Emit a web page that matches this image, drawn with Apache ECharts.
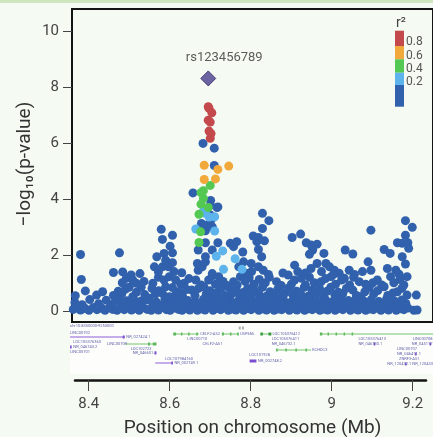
<!DOCTYPE html>
<html><head><meta charset="utf-8">
<script src="https://cdn.jsdelivr.net/npm/echarts@6/dist/echarts.min.js"></script>
<style>html,body{margin:0;padding:0;background:#f5faf2;}#c{width:433px;height:437px;}</style>
</head><body><div id="c"></div>
<script>
// ---- data: [position (Mb), -log10 p] grouped by LD r2 class ----
const snpBlue = [
[8.362,0.05],[8.371,0.10],[8.380,0.03],[8.392,0.08],[8.401,0.02],[8.412,0.12],[8.421,0.04],[8.433,0.09],[8.441,0.02],[8.452,0.11],
[8.460,0.05],[8.471,0.02],[8.480,0.10],[8.489,0.04],[8.498,0.13],[8.507,0.03],[8.516,0.08],[8.526,0.02],[8.535,0.11],[8.546,0.05],
[8.556,0.02],[8.565,0.09],[8.574,0.03],[8.585,0.12],[8.594,0.04],[8.603,0.02],[8.614,0.10],[8.624,0.05],[8.633,0.02],[8.642,0.09],
[8.652,0.03],[8.662,0.11],[8.671,0.02],[8.681,0.07],[8.690,0.03],[8.700,0.12],[8.710,0.02],[8.719,0.08],[8.729,0.04],[8.738,0.11],
[8.748,0.02],[8.757,0.06],[8.767,0.03],[8.776,0.10],[8.786,0.02],[8.795,0.08],[8.805,0.04],[8.815,0.12],[8.824,0.02],[8.834,0.07],
[8.843,0.03],[8.853,0.10],[8.862,0.02],[8.872,0.06],[8.881,0.04],[8.891,0.11],[8.900,0.02],[8.910,0.08],[8.919,0.03],[8.929,0.12],
[8.938,0.02],[8.948,0.07],[8.957,0.04],[8.967,0.10],[8.976,0.02],[8.986,0.06],[8.995,0.03],[9.005,0.11],[9.014,0.02],[9.024,0.08],
[9.033,0.04],[9.043,0.12],[9.052,0.02],[9.062,0.07],[9.071,0.03],[9.081,0.10],[9.090,0.02],[9.100,0.06],[9.109,0.04],[9.119,0.11],
[9.128,0.02],[9.138,0.08],[9.147,0.03],[9.157,0.12],[9.166,0.02],[9.176,0.07],[9.185,0.04],[9.195,0.10],[9.210,0.02],[9.218,0.03],
[8.366,0.30],[8.384,0.22],[8.403,0.40],[8.425,0.25],[8.444,0.38],[8.458,0.20],[8.466,0.33],[8.477,0.41],[8.486,0.24],[8.495,0.36],
[8.503,0.18],[8.512,0.42],[8.522,0.27],[8.531,0.35],[8.543,0.38],[8.551,0.45],[8.560,0.22],[8.569,0.31],[8.579,0.19],[8.590,0.40],
[8.599,0.26],[8.609,0.35],[8.619,0.20],[8.628,0.43],[8.638,0.28],[8.647,0.37],[8.657,0.21],[8.666,0.33],[8.676,0.18],[8.686,0.41],
[8.695,0.27],[8.705,0.36],[8.714,0.22],[8.724,0.44],[8.733,0.29],[8.743,0.18],[8.752,0.38],[8.762,0.25],[8.771,0.33],[8.781,0.20],
[8.790,0.42],[8.800,0.28],[8.810,0.36],[8.819,0.19],[8.829,0.40],[8.838,0.26],[8.848,0.34],[8.857,0.21],[8.867,0.43],[8.876,0.29],
[8.886,0.37],[8.895,0.18],[8.905,0.32],[8.914,0.41],[8.924,0.24],[8.933,0.35],[8.943,0.20],[8.952,0.44],[8.962,0.28],[8.971,0.36],
[8.981,0.21],[8.990,0.40],[9.000,0.27],[9.009,0.34],[9.019,0.19],[9.028,0.42],[9.038,0.26],[9.047,0.37],[9.057,0.22],[9.066,0.43],
[9.076,0.30],[9.085,0.35],[9.095,0.18],[9.104,0.40],[9.114,0.25],[9.123,0.33],[9.133,0.21],[9.142,0.42],[9.152,0.28],[9.161,0.36],
[9.171,0.20],[9.180,0.39],[9.190,0.26],
[8.367,0.54],[8.392,0.71],[8.420,0.56],[8.435,0.68],[8.462,0.55],[8.474,0.70],[8.483,0.62],[8.492,0.78],[8.501,0.84],[8.510,0.50],
[8.519,0.66],[8.531,0.84],[8.540,0.58],[8.558,0.80],[8.566,0.60],[8.575,0.72],[8.584,0.62],[8.592,0.86],[8.601,0.50],[8.609,0.83],
[8.617,0.58],[8.625,0.68],[8.634,0.52],[8.644,0.76],[8.657,0.74],[8.665,0.55],[8.674,0.80],[8.687,0.86],[8.693,0.60],[8.702,0.72],
[8.711,0.52],[8.720,0.65],[8.730,0.80],[8.740,0.55],[8.749,0.83],[8.758,0.62],[8.768,0.74],[8.777,0.50],[8.786,0.66],[8.796,0.80],
[8.805,0.56],[8.814,0.72],[8.824,0.60],[8.833,0.84],[8.843,0.52],[8.852,0.68],[8.862,0.58],[8.871,0.76],[8.881,0.50],[8.890,0.64],
[8.899,0.82],[8.909,0.56],[8.918,0.70],[8.928,0.60],[8.937,0.84],[8.947,0.52],[8.956,0.74],[8.966,0.62],[8.975,0.80],[8.985,0.55],
[8.994,0.70],[9.003,0.84],[9.013,0.58],[9.022,0.66],[9.033,0.62],[9.042,0.80],[9.058,0.74],[9.067,0.55],[9.078,0.50],[9.088,0.68],
[9.099,0.83],[9.110,0.60],[9.120,0.72],[9.136,0.86],[9.145,0.55],[9.158,0.64],[9.169,0.68],[9.180,0.80],[9.193,0.56],[9.216,0.56],
[8.382,1.12],[8.484,1.00],[8.494,1.16],[8.510,1.10],[8.519,0.98],[8.538,1.05],[8.560,0.98],[8.574,1.20],[8.588,1.10],[8.601,1.22],
[8.617,1.10],[8.630,0.95],[8.638,0.98],[8.650,1.15],[8.667,1.10],[8.680,0.92],[8.699,1.10],[8.708,1.25],[8.716,0.95],[8.724,1.22],
[8.735,1.05],[8.745,0.90],[8.761,1.04],[8.778,1.22],[8.770,0.92],[8.790,1.05],[8.800,1.18],[8.812,0.95],[8.825,1.12],[8.840,1.00],
[8.850,1.20],[8.868,1.04],[8.880,0.90],[8.897,1.28],[8.905,0.95],[8.913,1.10],[8.930,1.16],[8.940,0.92],[8.950,1.20],[8.962,1.00],
[8.979,1.04],[8.990,1.15],[9.004,1.22],[9.015,0.95],[9.030,1.10],[9.037,1.16],[9.050,0.92],[9.060,1.20],[9.074,1.04],[9.090,0.95],
[9.108,1.00],[9.119,1.10],[9.130,0.92],[9.152,1.22],[9.160,1.00],[9.175,1.12],[9.193,1.22],[9.185,0.92],
[8.462,1.37],[8.485,1.39],[8.506,1.28],[8.528,1.33],[8.564,1.57],[8.574,1.39],[8.584,1.57],[8.599,1.57],[8.613,1.40],[8.632,1.36],
[8.592,1.81],[8.609,1.72],[8.671,1.69],[8.673,1.45],[8.683,1.57],[8.691,1.75],[8.708,1.33],[8.774,1.57],[8.786,1.75],[8.792,1.34],
[8.805,1.69],[8.823,1.57],[8.835,1.45],[8.806,1.40],[8.848,1.30],[8.913,1.63],[8.969,1.69],[8.954,1.51],[8.991,1.69],[9.000,1.57],
[9.012,1.45],[8.921,1.40],[9.024,1.34],[8.940,1.35],[8.980,1.40],[9.049,1.45],[9.082,1.40],[9.103,1.45],[9.144,1.51],[9.165,1.45],
[9.173,1.31],[9.096,1.75],[9.010,1.30],[9.062,1.30],[8.884,1.35],
[8.380,2.01],[8.477,2.07],[8.570,1.93],[8.581,2.91],[8.584,2.55],[8.609,2.70],[8.603,2.31],[8.588,2.05],[8.609,2.07],[8.673,2.17],
[8.708,2.17],[8.722,2.43],[8.691,2.43],[8.691,1.93],[8.753,2.41],[8.769,2.47],[8.761,2.29],[8.784,2.10],[8.833,3.48],[8.849,3.22],
[8.833,2.94],[8.810,2.67],[8.823,2.62],[8.838,2.50],[8.819,2.47],[8.823,2.19],[8.831,1.93],[8.907,2.62],[8.928,2.74],[8.942,2.43],
[8.954,2.35],[8.969,2.38],[8.958,2.17],[8.950,2.02],[8.986,2.05],[9.103,2.88],[9.189,3.22],[9.206,2.98],[9.189,2.70],[9.169,2.43],
[9.181,2.41],[9.195,2.43],[9.197,2.23],[9.039,2.17],[9.058,2.03],[9.136,2.19],[9.151,2.05],[9.181,1.93],[9.189,1.67],
[8.685,5.98],[8.713,5.81],[8.713,5.19],[8.660,4.21],[8.704,3.94],[8.720,3.69],[8.703,3.77],[8.722,3.71],[8.703,3.42],[8.681,3.12],
[8.695,3.06],[8.708,3.00],[8.679,2.92],[8.691,2.86],[8.705,3.25]
];
const snpLightBlue = [[8.686,3.56],[8.691,3.48],[8.714,3.36],[8.667,2.92],[8.714,2.85],[8.734,2.14],[8.718,1.95],[8.765,1.86],[8.736,1.48],[8.782,1.48],[8.700,3.35]];
const snpGreen = [[8.703,4.48],[8.686,4.29],[8.680,4.22],[8.686,4.01],[8.680,3.81],[8.698,3.69],[8.675,3.45],[8.679,2.82],[8.675,2.44]];
const snpOrange = [[8.688,5.20],[8.722,5.05],[8.749,5.17],[8.688,4.69],[8.716,4.71]];
const snpRed = [[8.698,7.29],[8.700,7.23],[8.707,7.07],[8.698,6.81],[8.703,6.74],[8.700,6.42],[8.705,6.33],[8.703,6.16]];
const leadSnp = [[8.698,8.30]];
const leadName = 'rs123456789';

const yTicks = [0, 2, 4, 6, 8, 10];
const xTicks = [8.4, 8.6, 8.8, 9, 9.2];
const legendLabels = ['0.8', '0.6', '0.4', '0.2'];
const yTitle = '−log₁₀(p-value)';
const xTitle = 'Position on chromosome (Mb)';

// gene track: [start Mb, end Mb, row, kind]  kind: 0 purple line, 1 green line, 2 green exon, 3 dark green exon, 4 purple exon, 5 grey mark
const geneSegs = [
[8.354,8.490,14,0],[8.485,8.490,14,4],[8.354,8.358,24,4],
[8.490,8.569,21,1],[8.548,8.553,21,2],[8.560,8.569,21,2],[8.564,8.569,30,4],
[8.566,8.610,40,0],[8.606,8.610,40,4],
[8.611,8.675,11,1],[8.611,8.618,11,2],[8.630,8.633,11,2],[8.648,8.651,11,2],[8.668,8.672,11,2],
[8.732,8.774,11,1],[8.732,8.737,11,2],[8.752,8.755,11,2],[8.770,8.774,11,2],
[8.828,8.855,11,1],[8.828,8.834,11,3],[8.848,8.855,11,3],
[8.867,8.954,27,1],[8.867,8.871,27,2],[8.890,8.893,27,2],[8.915,8.918,27,2],[8.940,8.943,27,2],
[8.801,8.818,38,4],
[8.976,9.260,11,1],[8.976,8.982,11,2],[8.995,8.998,11,2],[9.015,9.018,11,2],[9.035,9.038,11,2],[9.055,9.058,11,2],
[9.110,9.113,21,4],[9.213,9.216,31,4],[9.249,9.252,21,4],[9.188,9.191,41,4],
[8.774,8.779,5,5],[8.782,8.787,5,5]
];
const geneLabels = [
[8.354,3,'chr10:8350000-9250000'],[8.354,10,'LINC00702'],[8.494,14,'NR_027424.1'],[8.362,19,'LOC105376360'],
[8.362,24,'NR_046743.2'],[8.354,29,'LINC00701'],[8.446,21,'LINC00709'],[8.505,26,'LOC102723'],[8.510,30,'NR_046601.1'],
[8.591,36,'LOC107984160'],[8.614,40,'NR_002749.1'],[8.678,11,'CELF2-AS2'],[8.646,16,'LINC00710'],[8.684,21,'CELF2-AS1'],
[8.777,11,'USP6NL'],[8.858,11,'LOC105376412'],[8.856,16,'LOC105376411'],[8.856,21,'NR_046732.1'],[8.957,27,'ECHDC3'],
[8.800,32,'LOC101928'],[8.822,38,'NR_002748.2'],[9.072,16,'LOC105376413'],[9.072,21,'NR_046730.1'],[9.207,16,'LINC00708'],
[9.205,21,'NR_045117.1'],[9.168,26,'LINC00707'],[9.168,31,'NR_046411.1'],[9.173,36,'ZNRF3-AS1'],[9.144,41,'NR_120432.1 NR_120433.1']
];

const COL = {blue:'#3161ad', light:'#5db3ec', green:'#53c853', orange:'#f2a93b', red:'#c4494c', lead:'#4a3d8f'};
const legendColors = [COL.red, COL.orange, COL.green, COL.light, COL.blue];
const geneColors = ['#8c5cd6', '#74c46a', '#5cb85c', '#2e9a3a', '#7a4fd0', '#b0b0b0'];

const X_MIN = 8.3588, X_MAX = 9.2576;
const FONT = 'Roboto, "DejaVu Sans", sans-serif';

const chart = echarts.init(document.getElementById('c'), null, {renderer: 'canvas'});

function scat(data, color, z) {
  return {type:'scatter', xAxisIndex:0, yAxisIndex:0, data, symbol:'circle', symbolSize:9,
    itemStyle:{color, opacity:1}, z, silent:true};
}

// legend graphics
const lgX = 395, lgY = 30.7, lgW = 9;
const lgH = [15.3, 13.3, 13.4, 12.3, 21.7];
const legendEls = [];
let yy = lgY;
lgH.forEach((h, i) => {
  legendEls.push({type:'rect', shape:{x:lgX, y:yy, width:lgW, height:h}, style:{fill:legendColors[i]}, z:10});
  yy += h;
});
const lblY = [42.3, 55.7, 68.5, 81.7];
legendLabels.forEach((t, i) => {
  legendEls.push({type:'text', x:lgX + 11, y:lblY[i], style:{text:t, fill:'#555', font:'12px ' + FONT, verticalAlign:'middle', align:'left'}, z:10});
});
legendEls.push({type:'text', x:lgX + 1, y:23, style:{text:'r²', fill:'#444', font:'14px ' + FONT, verticalAlign:'middle', align:'left'}, z:10});

chart.setOption({
  animation:false,
  backgroundColor:'#f5faf2',
  grid:[
    {left:72, top:9, right:-3, height:313, show:true, borderColor:'#141414', borderWidth:2, backgroundColor:'transparent', containLabel:false},
    {left:72, top:323, right:-3, height:52, show:false},
    {left:75, top:379, right:7, height:1, show:false}
  ],
  xAxis:[
    {gridIndex:0, type:'value', min:X_MIN, max:X_MAX, show:false},
    {gridIndex:1, type:'value', min:X_MIN, max:X_MAX, show:false},
    {gridIndex:2, type:'value', min:8.3662, max:9.2329, position:'bottom',
      axisLine:{show:true, onZero:false, lineStyle:{color:'#141414', width:2.5}},
      axisTick:{show:true, customValues:xTicks, length:11, lineStyle:{color:'#444', width:1}},
      axisLabel:{show:true, customValues:xTicks, margin:17, fontSize:15, color:'#444', fontFamily:FONT,
        formatter:v => (Math.round(v*10)/10).toString()},
      splitLine:{show:false}
    }
  ],
  yAxis:[
    {gridIndex:0, type:'value', min:-0.4, max:10.78,
      axisLine:{show:false},
      axisTick:{show:true, customValues:yTicks, length:9, lineStyle:{color:'#444', width:1}},
      axisLabel:{show:true, customValues:yTicks, margin:13, fontSize:15, color:'#444', fontFamily:FONT},
      splitLine:{show:false}
    },
    {gridIndex:1, type:'value', min:0, max:52, inverse:true, show:false},
    {gridIndex:2, type:'value', min:0, max:1, show:false}
  ],
  graphic:[
    {type:'rect', shape:{x:0, y:0, width:433, height:3}, style:{fill:'#cfe5bf'}, z:0},
    {type:'rect', shape:{x:70, y:323, width:365, height:51}, style:{fill:'#fdfefc'}, z:0},
    {type:'text', x:25, y:164, rotation:Math.PI/2, style:{text:yTitle, fill:'#333', font:'19px ' + FONT, align:'center', verticalAlign:'middle'}, z:10},
    {type:'text', x:252.5, y:428, style:{text:xTitle, fill:'#333', font:'19px ' + FONT, align:'center', verticalAlign:'middle'}, z:10},
    ...legendEls
  ],
  series:[
    scat(snpBlue, COL.blue, 2),
    scat(snpLightBlue, COL.light, 3),
    scat(snpGreen, COL.green, 4),
    scat(snpOrange, COL.orange, 5),
    scat(snpRed, COL.red, 6),
    {type:'scatter', xAxisIndex:0, yAxisIndex:0, data:leadSnp, symbol:'diamond', symbolSize:15, z:7, silent:true,
      itemStyle:{color:COL.lead, borderColor:'#2d2563', borderWidth:1},
      label:{show:true, position:'top', offset:[16, -1], formatter:leadName, fontSize:13, color:'#333', fontFamily:FONT}
    },
    {type:'custom', xAxisIndex:1, yAxisIndex:1, data:geneSegs, silent:true, z:3,
      renderItem:function(params, api){
        const a = api.coord([api.value(0), api.value(2)]);
        const b = api.coord([api.value(1), api.value(2)]);
        const k = api.value(3);
        const col = geneColors[k];
        if (k === 0 || k === 1) {
          return {type:'line', shape:{x1:a[0], y1:a[1], x2:b[0], y2:a[1]}, style:{stroke:col, lineWidth:1}};
        }
        return {type:'rect', shape:{x:a[0], y:a[1]-1.5, width:Math.max(1.5, b[0]-a[0]), height:3}, style:{fill:col}};
      }
    },
    {type:'custom', xAxisIndex:1, yAxisIndex:1, data:geneLabels, silent:true, z:3,
      renderItem:function(params, api){
        const p = api.coord([api.value(0), api.value(1)]);
        return {type:'text', x:p[0], y:p[1], style:{text:geneLabels[params.dataIndex][2], fill:'#6262aa', font:'4px ' + FONT, verticalAlign:'middle', align:'left'}};
      }
    }
  ]
});
</script>
</body></html>
